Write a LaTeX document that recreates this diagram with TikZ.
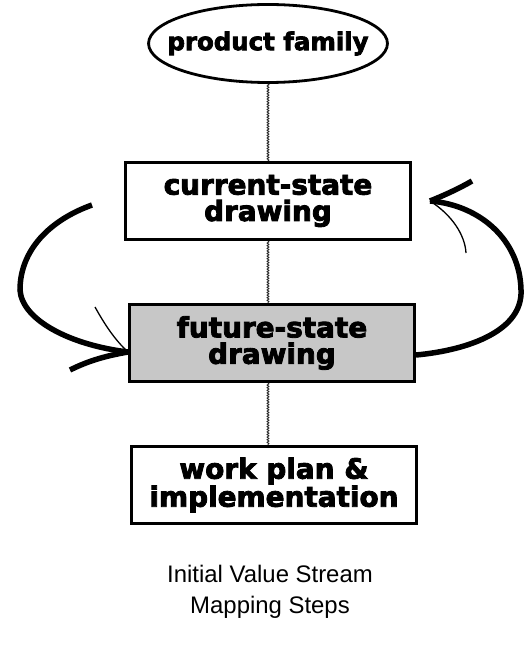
\documentclass[tikz,border=0pt]{standalone}
\usepackage{fontspec}
\setmainfont{Liberation Sans}
\newfontfamily\heavyfont[BoldFeatures={FakeBold=3}]{DejaVu Sans}
\usetikzlibrary{shapes.geometric,decorations.pathmorphing}
\tikzset{
  stepbox/.style={draw=black, line width=3bp, minimum width=285bp, minimum height=77bp,
    inner sep=0pt, align=center, font=\heavyfont\bfseries\fontsize{28}{26.5}\selectfont},
  famoval/.style={ellipse, draw=black, line width=2.8bp, minimum width=234bp, minimum height=78bp,
    inner xsep=-16bp, inner ysep=0pt, font=\heavyfont\bfseries\fontsize{24.5}{26}\selectfont},
  wavy/.style={decorate, decoration={snake, amplitude=0.9bp, segment length=2.6bp},
    line width=0.9bp, black!85},
  loopline/.style={line width=5.5bp},
  barb/.style={line width=1.3bp}
}
\begin{document}
\begin{tikzpicture}[x=1bp,y=-1bp]
\useasboundingbox (0,0) rectangle (529,645);
\node [famoval] (fam) at (268,43.5) {product family};
\node [stepbox] (cur) at (268,201) {current-state\\drawing};
\node [stepbox, fill=black!22] (fut) at (272,343) {future-state\\drawing};
\node [stepbox] (plan) at (274,485) {work plan \&\\implementation};
\node [align=center, font=\fontsize{24}{31}\selectfont] (cap) at (270,592) {Initial Value Stream\\Mapping Steps};
\draw [wavy] (fam.south) -- (cur.north);
\draw [wavy] (cur.south) -- (cur.south |- fut.north);
\draw [wavy] (cur.south |- fut.south) -- (cur.south |- plan.north);
\coordinate (ltail) at ([xshift=-32bp, yshift=-4bp]cur.west);
\coordinate (ltip) at ([yshift=-9bp]fut.west);
\coordinate (rtail) at ([yshift=-12bp]fut.east);
\coordinate (rtip) at ([xshift=18bp]cur.east);
\draw [loopline] (ltail) .. controls (50,220) and (20,250) .. (20,290)
  .. controls (22,320) and (70,345) .. (ltip);
\draw [loopline] (ltip) .. controls (105,356) and (88,361) .. (70,370);
\draw [barb] (95,307) .. controls (105,325) and (115,340) .. (ltip);
\draw [loopline] (rtail) .. controls (470,350) and (523,330) .. (521,290)
  .. controls (520,240) and (480,205) .. (rtip);
\draw [loopline] (rtip) .. controls (445,195) and (460,188) .. (472,181);
\draw [barb] (rtip) .. controls (452,215) and (465,235) .. (466,253);
\end{tikzpicture}
\end{document}
